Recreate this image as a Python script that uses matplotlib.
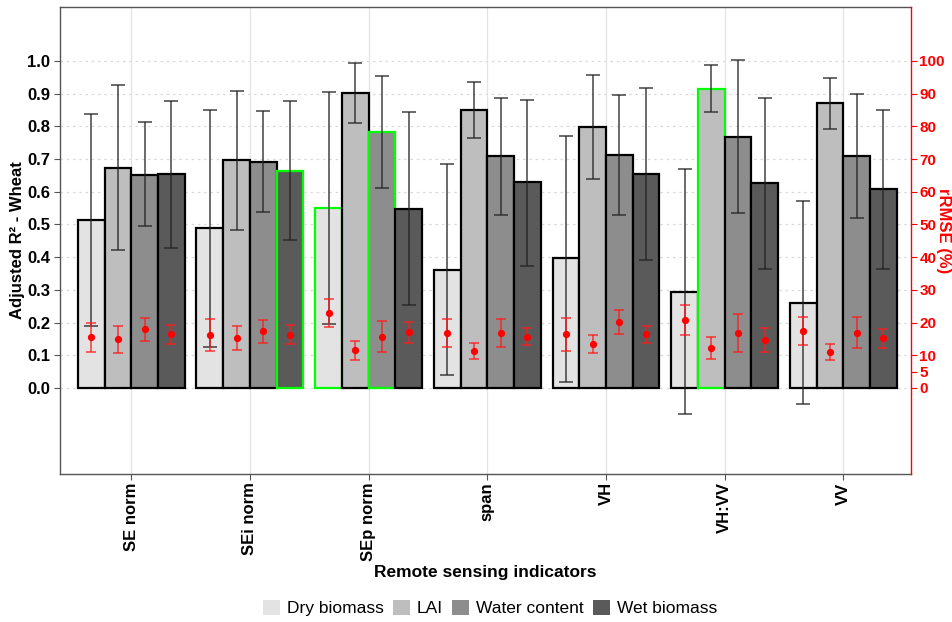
import matplotlib
matplotlib.use("Agg")
import matplotlib.pyplot as plt
from matplotlib.patches import Patch
import numpy as np

plt.rcParams['font.family'] = ['Liberation Sans', 'DejaVu Sans']

categories = ["SE norm", "SEi norm", "SEp norm", "span", "VH", "VH:VV", "VV"]
series = ["Dry biomass", "LAI", "Water content", "Wet biomass"]
colors = ["#E3E3E3", "#BEBEBE", "#8D8D8D", "#5A5A5A"]

# Adjusted R2 mean, upper, lower (per series, per category)
r2_dry   = [0.513, 0.488, 0.551, 0.362, 0.396, 0.295, 0.260]
r2_lai   = [0.672, 0.697, 0.902, 0.850, 0.798, 0.915, 0.871]
r2_water = [0.651, 0.692, 0.784, 0.708, 0.711, 0.769, 0.709]
r2_wet   = [0.653, 0.664, 0.548, 0.629, 0.654, 0.626, 0.609]

r2_hi_dry   = [0.839, 0.851, 0.906, 0.685, 0.772, 0.669, 0.571]
r2_hi_lai   = [0.925, 0.908, 0.993, 0.936, 0.958, 0.988, 0.949]
r2_hi_water = [0.813, 0.846, 0.954, 0.888, 0.896, 1.002, 0.899]
r2_hi_wet   = [0.878, 0.879, 0.844, 0.882, 0.917, 0.887, 0.851]

r2_lo_dry   = [0.189, 0.124, 0.196, 0.039, 0.017, -0.081, -0.050]
r2_lo_lai   = [0.421, 0.484, 0.810, 0.763, 0.638, 0.844, 0.791]
r2_lo_water = [0.494, 0.539, 0.612, 0.528, 0.528, 0.536, 0.520]
r2_lo_wet   = [0.429, 0.451, 0.253, 0.373, 0.391, 0.363, 0.363]

# rRMSE (%) mean, upper, lower
rm_dry   = [15.5, 16.2, 23.0, 16.8, 16.4, 20.8, 17.3]
rm_lai   = [14.9, 15.3, 11.6, 11.3, 13.5, 12.2, 11.0]
rm_water = [18.0, 17.3, 15.7, 16.8, 20.2, 16.8, 16.9]
rm_wet   = [16.4, 16.3, 17.1, 15.7, 16.4, 14.7, 15.2]

rm_hi_dry   = [19.9, 21.1, 27.3, 21.0, 21.5, 25.4, 21.7]
rm_hi_lai   = [19.0, 18.9, 14.4, 13.8, 16.2, 15.6, 13.4]
rm_hi_water = [21.5, 20.9, 20.4, 21.1, 24.0, 22.7, 21.7]
rm_hi_wet   = [19.3, 19.3, 20.2, 18.3, 19.1, 18.4, 18.1]

rm_lo_dry   = [11.0, 11.3, 18.5, 12.6, 11.2, 16.1, 13.1]
rm_lo_lai   = [10.7, 11.6, 8.7, 9.0, 10.7, 8.9, 8.6]
rm_lo_water = [14.5, 13.7, 10.9, 12.4, 16.5, 10.9, 12.1]
rm_lo_wet   = [13.5, 13.4, 13.9, 13.1, 13.7, 10.9, 12.1]

# highlighted (best) bars: (category index, series index)
highlight = [(1, 3), (2, 0), (2, 2), (5, 1)]

r2 = [r2_dry, r2_lai, r2_water, r2_wet]
r2_hi = [r2_hi_dry, r2_hi_lai, r2_hi_water, r2_hi_wet]
r2_lo = [r2_lo_dry, r2_lo_lai, r2_lo_water, r2_lo_wet]
rm = [rm_dry, rm_lai, rm_water, rm_wet]
rm_hi = [rm_hi_dry, rm_hi_lai, rm_hi_water, rm_hi_wet]
rm_lo = [rm_lo_dry, rm_lo_lai, rm_lo_water, rm_lo_wet]

W, H = 952, 622
fig = plt.figure(figsize=(W / 100, H / 100), dpi=100)
L, R, T, B = 60, 911, 7, 474
ax = fig.add_axes([L / W, 1 - B / H, (R - L) / W, (B - T) / H])

xc = np.arange(1, len(categories) + 1)
bw = 0.225
ylo, yhi = -0.263, 1.165

ax.set_xlim(0.40, 7.57)
ax.set_ylim(ylo, yhi)

# grid
for y in np.arange(0, 1.01, 0.1):
    ax.axhline(y, color="#D9D9D9", lw=0.9, ls=(0, (2, 3)), zorder=0)
for x in xc:
    ax.axvline(x, color="#E3E3E3", lw=0.9, zorder=0)

for j in range(4):
    xs = xc + (j - 1.5) * bw
    ec = []
    for i in range(len(categories)):
        ec.append("#00FF00" if (i, j) in highlight else "black")
    ax.bar(xs, r2[j], width=bw, color=colors[j], edgecolor=ec, linewidth=1.6, zorder=2)

for j in range(4):
    xs = xc + (j - 1.5) * bw
    vals = np.array(r2[j])
    hi = np.array(r2_hi[j])
    lo = np.array(r2_lo[j])
    ax.errorbar(xs, vals, yerr=[vals - lo, hi - vals], fmt="none", ecolor="#222222",
                elinewidth=1.1, capsize=5, capthick=1.1, alpha=0.85, zorder=4)
    m = np.array(rm[j]) / 100
    mh = np.array(rm_hi[j]) / 100
    ml = np.array(rm_lo[j]) / 100
    ax.errorbar(xs, m, yerr=[m - ml, mh - m], fmt="none", ecolor="#FF1A1A",
                elinewidth=1.1, capsize=3.5, capthick=1.1, alpha=0.85, zorder=5)
    ax.plot(xs, m, "o", color="#FF0000", ms=4.2, zorder=6)

# axes styling
ax.set_yticks(np.arange(0, 1.01, 0.1))
ax.set_yticklabels([f"{v:.1f}" for v in np.arange(0, 1.01, 0.1)], fontsize=12, fontweight="bold")
ax.set_xticks(xc)
ax.set_xticklabels(categories, rotation=90, fontsize=12, fontweight="bold", va="top", ha="center")
ax.tick_params(axis="both", length=4, color="#555555", width=0.8, pad=3)
ax.tick_params(axis="x", pad=2)
for s in ["left", "bottom", "top"]:
    ax.spines[s].set_color("#555555")
    ax.spines[s].set_linewidth(1.0)
ax.spines["right"].set_visible(False)

ax2 = ax.twinx()
ax2.set_ylim(ylo * 100, yhi * 100)
rticks = [0, 5, 10, 20, 30, 40, 50, 60, 70, 80, 90, 100]
ax2.set_yticks(rticks)
ax2.set_yticklabels([str(t) for t in rticks], color="#FF0000", fontsize=11, fontweight="bold")
ax2.tick_params(axis="y", colors="#FF0000", length=4, width=0.8, pad=2)
ax2.spines["right"].set_color("#FF0000")
ax2.spines["right"].set_linewidth(1.0)
for s in ["left", "bottom", "top"]:
    ax2.spines[s].set_visible(False)

fig.text(18 / W, 1 - 240 / H, "Adjusted R² - Wheat", rotation=90, ha="center", va="center",
         fontsize=12, fontweight="bold")
fig.text(943 / W, 1 - 231 / H, "rRMSE (%)", rotation=270, ha="center", va="center",
         fontsize=12, fontweight="bold", color="#FF0000")
fig.text(485 / W, 1 - 573 / H, "Remote sensing indicators", ha="center", va="center",
         fontsize=12.5, fontweight="bold")

handles = [Patch(facecolor=c, edgecolor="none", label=s) for c, s in zip(colors, series)]
fig.legend(handles=handles, loc="center", bbox_to_anchor=(490 / W, 1 - 608 / H), ncol=4,
           frameon=False, fontsize=12.5, handlelength=1.0, handleheight=1.0,
           handletextpad=0.4, columnspacing=0.5)

fig.savefig("out.png", dpi=100)
